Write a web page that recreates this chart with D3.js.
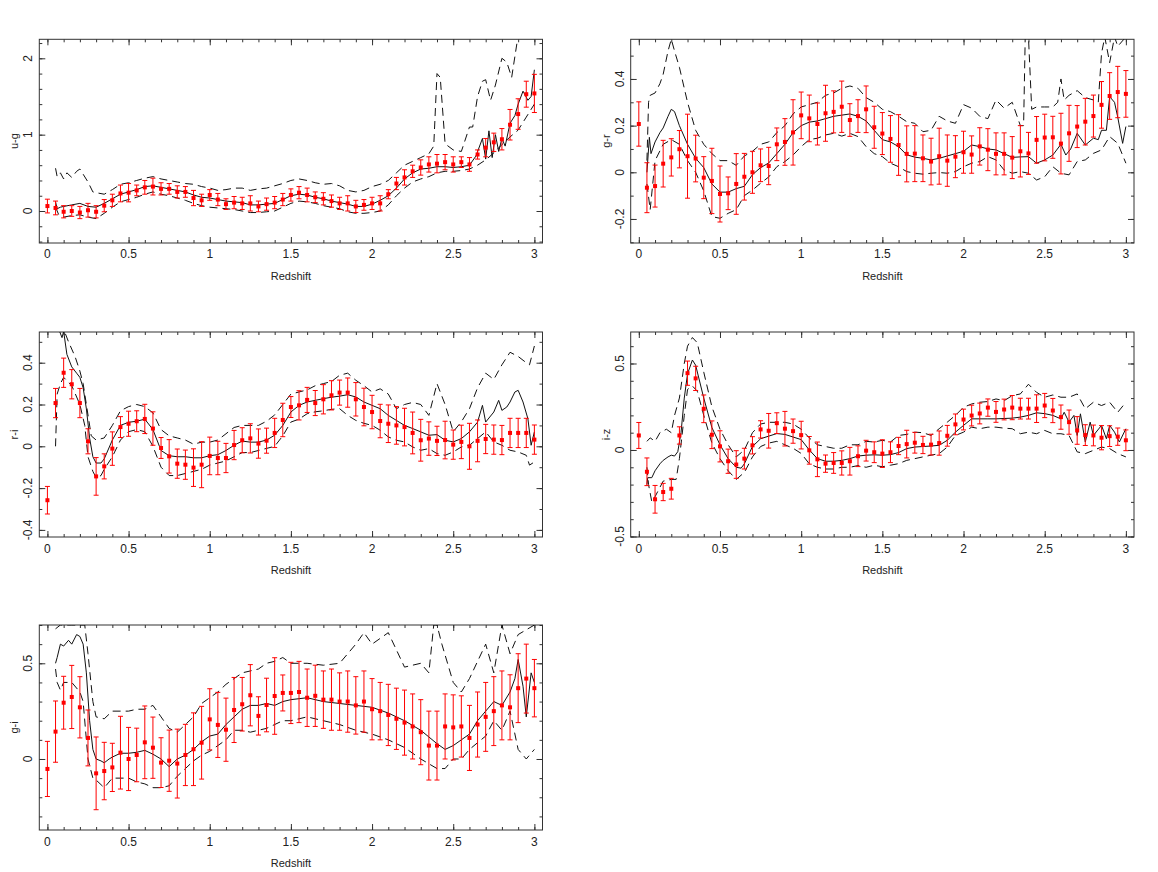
<!DOCTYPE html>
<meta charset="utf-8">
<body style="margin:0;background:#fff">
<script src="https://d3js.org/d3.v7.min.js"></script>
<style>
  body { font-family: "Liberation Sans", Arial, sans-serif; }
  .lbl { font-size: 12px; fill: #222; }
  .ttl { font-size: 11px; fill: #222; }
  .tk line { stroke: #333; }
  .tk path { display: none; }
</style>
<script>
// redshift bins of the red points
var zPts = [0,0.05,0.1,0.15,0.2,0.25,0.3,0.35,0.4,0.45,0.5,0.55,0.6,0.65,0.7,0.75,0.8,0.85,0.9,0.95,
  1,1.05,1.1,1.15,1.2,1.25,1.3,1.35,1.4,1.45,1.5,1.55,1.6,1.65,1.7,1.75,1.8,1.85,1.9,1.95,
  2,2.05,2.1,2.15,2.2,2.25,2.3,2.35,2.4,2.45,2.5,2.55,2.6,2.65,2.7,2.75,2.8,2.85,2.9,2.95,3];

// tick labels
var xMajor = [0,0.5,1,1.5,2,2.5,3];
var xMinor = [0,0.1,0.2,0.3,0.4,0.5,0.6,0.7,0.8,0.9,1,1.1,1.2,1.3,1.4,1.5,1.6,1.7,1.8,1.9,2,2.1,2.2,2.3,2.4,2.5,2.6,2.7,2.8,2.9,3];
var ugMajor = [0,1,2], ugMinor = [-0.4,-0.2,0,0.2,0.4,0.6,0.8,1,1.2,1.4,1.6,1.8,2,2.2];
var grMajor = [-0.2,0,0.2,0.4], grMinor = [-0.3,-0.2,-0.1,0,0.1,0.2,0.3,0.4,0.5];
var riMajor = [-0.4,-0.2,0,0.2,0.4], riMinor = [-0.4,-0.3,-0.2,-0.1,0,0.1,0.2,0.3,0.4,0.5];
var izMajor = [-0.5,0,0.5], izMinor = [-0.5,-0.4,-0.3,-0.2,-0.1,0,0.1,0.2,0.3,0.4,0.5,0.6];
var giMajor = [0,0.5], giMinor = [-0.3,-0.2,-0.1,0,0.1,0.2,0.3,0.4,0.5,0.6,0.7];

// u-g
var ugVal = [0.065,0.04,-0.01,0.0,-0.02,0.01,-0.01,0.07,0.14,0.23,0.24,0.27,0.31,0.32,0.29,0.29,0.25,0.25,0.17,0.14,
  0.21,0.15,0.09,0.11,0.10,0.10,0.06,0.09,0.11,0.15,0.21,0.24,0.21,0.18,0.16,0.13,0.10,0.10,0.06,0.08,
  0.10,0.10,0.22,0.36,0.44,0.52,0.57,0.61,0.62,0.64,0.61,0.64,0.61,0.74,0.83,0.90,0.94,1.13,1.27,1.53,1.54];
var ugErr = [0.09,0.09,0.08,0.07,0.08,0.09,0.08,0.08,0.08,0.11,0.12,0.07,0.09,0.11,0.08,0.07,0.08,0.07,0.10,0.08,
  0.07,0.08,0.07,0.08,0.08,0.10,0.07,0.08,0.08,0.08,0.08,0.08,0.09,0.07,0.08,0.08,0.08,0.10,0.08,0.07,
  0.08,0.10,0.06,0.08,0.10,0.08,0.10,0.10,0.12,0.10,0.10,0.07,0.09,0.06,0.12,0.12,0.14,0.20,0.20,0.17,0.25];
var ugMed = [[0.05,0.12],[0.06,0.03],[0.08,0.05],[0.1,0.06],[0.15,0.08],[0.2,0.1],[0.25,0.06],[0.3,0.05],[0.35,0.1],[0.4,0.16],
  [0.45,0.22],[0.5,0.25],[0.55,0.28],[0.6,0.32],[0.65,0.33],[0.7,0.31],[0.75,0.29],[0.8,0.27],[0.85,0.25],[0.9,0.21],
  [0.95,0.18],[1,0.17],[1.05,0.15],[1.1,0.13],[1.15,0.12],[1.2,0.11],[1.25,0.08],[1.3,0.08],[1.35,0.09],[1.4,0.1],
  [1.45,0.15],[1.5,0.2],[1.55,0.22],[1.6,0.21],[1.65,0.18],[1.7,0.16],[1.75,0.13],[1.8,0.11],[1.85,0.09],[1.9,0.06],
  [1.95,0.06],[2,0.09],[2.05,0.14],[2.1,0.2],[2.15,0.3],[2.2,0.42],[2.25,0.5],[2.3,0.55],[2.35,0.56],[2.4,0.58],
  [2.45,0.58],[2.5,0.57],[2.55,0.58],[2.6,0.6],[2.64,0.72],[2.68,0.95],[2.7,0.68],[2.72,1.05],[2.74,0.7],[2.76,1.0],
  [2.78,0.78],[2.8,0.95],[2.82,0.85],[2.85,1.15],[2.88,1.25],[2.9,1.4],[2.93,1.57],[2.96,1.45],[2.98,1.5],[3,1.85]];
var ugHi = [[0.05,0.56],[0.06,0.45],[0.08,0.5],[0.1,0.42],[0.12,0.5],[0.15,0.44],[0.18,0.52],[0.2,0.55],[0.25,0.38],[0.28,0.25],
  [0.3,0.24],[0.35,0.22],[0.4,0.28],[0.45,0.35],[0.5,0.37],[0.55,0.4],[0.6,0.43],[0.65,0.45],[0.7,0.42],[0.75,0.4],
  [0.8,0.38],[0.85,0.36],[0.9,0.35],[0.95,0.32],[1,0.3],[1.05,0.27],[1.1,0.28],[1.15,0.3],[1.2,0.3],[1.25,0.27],
  [1.3,0.29],[1.35,0.3],[1.4,0.33],[1.45,0.36],[1.5,0.4],[1.55,0.42],[1.6,0.4],[1.65,0.37],[1.7,0.35],[1.75,0.36],
  [1.8,0.33],[1.85,0.27],[1.9,0.25],[1.95,0.27],[2,0.32],[2.05,0.35],[2.1,0.4],[2.15,0.5],[2.2,0.6],[2.25,0.65],
  [2.3,0.7],[2.35,0.75],[2.38,0.85],[2.4,1.8],[2.42,1.75],[2.45,0.88],[2.5,0.8],[2.55,0.78],[2.6,1.1],[2.62,1.1],
  [2.65,1.5],[2.68,1.7],[2.7,1.72],[2.73,1.45],[2.76,1.65],[2.8,2.0],[2.83,1.95],[2.86,1.75],[2.9,2.3],[2.95,2.3],[3,2.3]];
var ugLo = [[0.05,0.05],[0.07,-0.05],[0.1,-0.08],[0.15,-0.06],[0.2,-0.05],[0.25,-0.08],[0.3,-0.1],[0.35,-0.03],[0.4,0.05],[0.45,0.12],
  [0.5,0.15],[0.55,0.18],[0.6,0.22],[0.65,0.25],[0.7,0.22],[0.75,0.2],[0.8,0.17],[0.85,0.14],[0.9,0.1],[0.95,0.07],
  [1,0.05],[1.05,0.04],[1.1,0.03],[1.15,0.02],[1.2,0.0],[1.25,-0.02],[1.3,-0.02],[1.35,-0.01],[1.4,0.0],[1.45,0.05],
  [1.5,0.1],[1.55,0.13],[1.6,0.12],[1.65,0.1],[1.7,0.07],[1.75,0.05],[1.8,0.03],[1.85,-0.01],[1.9,-0.03],[1.95,-0.03],
  [2,-0.02],[2.05,0.0],[2.1,0.08],[2.15,0.2],[2.2,0.3],[2.25,0.38],[2.3,0.42],[2.35,0.45],[2.4,0.5],[2.45,0.52],
  [2.5,0.52],[2.55,0.53],[2.6,0.55],[2.65,0.6],[2.7,0.67],[2.75,0.76],[2.8,0.87],[2.85,0.97],[2.9,1.06],[2.95,1.23],[3,1.4]];

// g-r
var grVal = [0.207,-0.066,-0.059,0.037,0.064,0.099,0.069,0.059,-0.023,-0.037,-0.093,-0.09,-0.05,-0.019,0.0,0.03,0.027,0.12,0.13,0.171,
  0.244,0.231,0.207,0.253,0.259,0.281,0.224,0.241,0.27,0.193,0.166,0.143,0.117,0.079,0.08,0.06,0.046,0.069,0.05,0.067,
  0.086,0.076,0.111,0.097,0.079,0.079,0.063,0.09,0.081,0.139,0.149,0.15,0.123,0.167,0.196,0.217,0.241,0.289,0.327,0.344,0.336];
var grErr = [0.095,0.107,0.09,0.1,0.08,0.08,0.18,0.1,0.09,0.14,0.12,0.07,0.13,0.1,0.09,0.07,0.08,0.07,0.1,0.14,
  0.1,0.1,0.09,0.12,0.09,0.11,0.07,0.07,0.1,0.09,0.09,0.1,0.13,0.12,0.12,0.1,0.1,0.12,0.11,0.09,
  0.09,0.08,0.08,0.09,0.09,0.09,0.09,0.11,0.09,0.1,0.1,0.09,0.13,0.12,0.09,0.1,0.09,0.1,0.1,0.11,0.1];
var grMed = [[0.05,0.0],[0.06,0.1],[0.065,0.15],[0.075,0.08],[0.1,0.13],[0.13,0.17],[0.15,0.19],[0.18,0.24],[0.2,0.27],[0.22,0.26],
  [0.25,0.2],[0.3,0.12],[0.35,0.06],[0.4,0.02],[0.45,-0.05],[0.5,-0.085],[0.55,-0.085],[0.6,-0.07],[0.65,-0.06],[0.7,-0.01],
  [0.75,0.02],[0.8,0.04],[0.85,0.08],[0.9,0.12],[0.95,0.17],[1,0.2],[1.05,0.215],[1.1,0.22],[1.15,0.23],[1.2,0.24],
  [1.25,0.245],[1.3,0.25],[1.35,0.24],[1.4,0.22],[1.45,0.18],[1.5,0.14],[1.55,0.13],[1.6,0.11],[1.65,0.075],[1.7,0.065],
  [1.75,0.06],[1.8,0.053],[1.85,0.06],[1.9,0.07],[1.95,0.08],[2,0.09],[2.05,0.117],[2.1,0.11],[2.15,0.1],[2.2,0.096],
  [2.25,0.08],[2.3,0.064],[2.35,0.066],[2.4,0.067],[2.45,0.039],[2.5,0.053],[2.55,0.074],[2.6,0.12],[2.63,0.074],[2.66,0.1],
  [2.7,0.167],[2.75,0.117],[2.8,0.146],[2.83,0.14],[2.85,0.18],[2.88,0.18],[2.9,0.324],[2.93,0.3],[2.95,0.236],[2.98,0.124],[3,0.196]];
var grHi = [[0.05,0.05],[0.06,0.3],[0.07,0.33],[0.1,0.34],[0.13,0.38],[0.15,0.42],[0.18,0.52],[0.2,0.57],[0.22,0.52],[0.25,0.45],
  [0.3,0.3],[0.35,0.18],[0.4,0.12],[0.45,0.08],[0.5,0.05],[0.55,0.05],[0.6,0.03],[0.65,0.07],[0.7,0.09],[0.75,0.12],
  [0.8,0.13],[0.85,0.17],[0.9,0.2],[0.95,0.25],[1,0.28],[1.05,0.29],[1.1,0.3],[1.15,0.33],[1.2,0.34],[1.25,0.36],
  [1.3,0.37],[1.35,0.36],[1.4,0.32],[1.45,0.3],[1.5,0.27],[1.55,0.26],[1.6,0.24],[1.65,0.217],[1.7,0.21],[1.75,0.174],
  [1.8,0.18],[1.85,0.24],[1.9,0.22],[1.95,0.21],[2,0.29],[2.05,0.275],[2.1,0.24],[2.15,0.23],[2.2,0.31],[2.25,0.275],
  [2.3,0.3],[2.35,0.2],[2.37,0.2],[2.38,0.58],[2.4,0.58],[2.42,0.27],[2.45,0.28],[2.5,0.28],[2.55,0.28],[2.58,0.3],
  [2.6,0.4],[2.62,0.31],[2.65,0.33],[2.7,0.35],[2.75,0.32],[2.8,0.31],[2.83,0.3],[2.85,0.51],[2.87,0.58],[2.9,0.47],
  [2.93,0.58],[2.95,0.54],[3,0.58]];
var grLo = [[0.05,-0.05],[0.07,-0.16],[0.1,0.05],[0.15,0.12],[0.2,0.14],[0.25,0.12],[0.3,0.05],[0.35,0.0],[0.4,-0.08],[0.45,-0.19],
  [0.5,-0.197],[0.55,-0.176],[0.6,-0.16],[0.65,-0.1],[0.7,-0.076],[0.75,-0.047],[0.8,-0.02],[0.85,0.024],[0.9,0.046],[0.95,0.074],
  [1,0.11],[1.05,0.14],[1.1,0.146],[1.15,0.16],[1.2,0.167],[1.25,0.155],[1.3,0.167],[1.35,0.153],[1.4,0.11],[1.45,0.08],
  [1.5,0.067],[1.55,0.039],[1.6,0.024],[1.65,0.003],[1.7,-0.004],[1.75,-0.008],[1.8,-0.004],[1.85,-0.001],[1.9,-0.004],[1.95,0.003],
  [2,0.024],[2.05,0.039],[2.1,0.046],[2.15,0.067],[2.2,0.053],[2.25,0.01],[2.3,-0.004],[2.35,0.003],[2.4,-0.004],[2.45,-0.033],
  [2.5,-0.019],[2.55,0.024],[2.6,-0.004],[2.65,-0.011],[2.7,0.046],[2.75,0.053],[2.8,0.081],[2.85,0.096],[2.9,0.153],[2.95,0.124],[3,0.039]];

// r-i
var riVal = [-0.258,0.207,0.352,0.297,0.207,0.024,-0.144,-0.096,-0.011,0.092,0.108,0.12,0.131,0.085,-0.008,-0.048,-0.083,-0.088,-0.102,-0.088,
  -0.046,-0.056,-0.056,0.006,0.029,0.038,0.013,0.027,0.064,0.126,0.188,0.196,0.222,0.207,0.225,0.244,0.257,0.257,0.225,0.188,
  0.164,0.121,0.108,0.1,0.092,0.064,0.029,0.037,0.026,0.03,0.008,0.021,0.0,0.026,0.035,0.032,0.03,0.064,0.064,0.064,0.032];
var riErr = [0.066,0.07,0.07,0.07,0.07,0.06,0.09,0.06,0.08,0.05,0.06,0.05,0.07,0.08,0.05,0.08,0.07,0.07,0.09,0.11,
  0.09,0.08,0.07,0.07,0.06,0.07,0.07,0.06,0.07,0.08,0.05,0.07,0.06,0.06,0.07,0.07,0.06,0.07,0.08,0.09,
  0.08,0.08,0.09,0.09,0.09,0.1,0.1,0.08,0.07,0.09,0.07,0.08,0.11,0.1,0.07,0.07,0.07,0.07,0.07,0.07,0.07];
var riMed = [[0.07,0.56],[0.09,0.52],[0.1,0.55],[0.12,0.44],[0.15,0.38],[0.18,0.35],[0.2,0.33],[0.22,0.28],[0.24,0.18],[0.26,0.04],
  [0.28,-0.05],[0.3,-0.08],[0.33,-0.08],[0.35,-0.06],[0.4,0.03],[0.45,0.1],[0.5,0.115],[0.55,0.12],[0.6,0.13],[0.65,0.08],
  [0.7,-0.02],[0.75,-0.045],[0.8,-0.05],[0.85,-0.05],[0.9,-0.055],[0.95,-0.055],[1,-0.045],[1.05,-0.04],[1.1,-0.02],[1.15,0.005],
  [1.2,0.025],[1.25,0.02],[1.3,0.02],[1.35,0.03],[1.4,0.053],[1.45,0.1],[1.5,0.164],[1.55,0.196],[1.6,0.212],[1.65,0.22],
  [1.7,0.228],[1.75,0.235],[1.8,0.24],[1.85,0.247],[1.9,0.236],[1.95,0.212],[2,0.196],[2.05,0.18],[2.1,0.148],[2.15,0.124],
  [2.2,0.1],[2.25,0.085],[2.3,0.069],[2.35,0.053],[2.4,0.056],[2.45,0.029],[2.5,0.021],[2.55,0.037],[2.6,0.069],[2.65,0.116],
  [2.68,0.196],[2.7,0.116],[2.75,0.164],[2.78,0.22],[2.8,0.172],[2.83,0.188],[2.85,0.212],[2.88,0.26],[2.9,0.268],[2.93,0.212],
  [2.96,0.132],[2.98,0.005],[3,0.069]];
var riHi = [[0.05,0.56],[0.1,0.56],[0.13,0.5],[0.17,0.43],[0.2,0.36],[0.22,0.3],[0.25,0.15],[0.27,0.05],[0.3,0.03],[0.35,0.04],
  [0.4,0.1],[0.45,0.17],[0.5,0.19],[0.55,0.2],[0.6,0.19],[0.65,0.16],[0.7,0.08],[0.75,0.05],[0.8,0.04],[0.85,0.03],
  [0.9,0.01],[0.95,0.02],[1,0.02],[1.05,0.03],[1.1,0.06],[1.15,0.09],[1.2,0.1],[1.25,0.1],[1.3,0.1],[1.35,0.12],
  [1.4,0.15],[1.45,0.2],[1.5,0.25],[1.55,0.26],[1.6,0.27],[1.65,0.29],[1.7,0.3],[1.75,0.31],[1.8,0.34],[1.85,0.35],
  [1.9,0.316],[1.95,0.29],[2,0.26],[2.05,0.275],[2.1,0.25],[2.15,0.18],[2.2,0.2],[2.25,0.21],[2.3,0.2],[2.35,0.148],
  [2.4,0.3],[2.45,0.2],[2.5,0.07],[2.55,0.117],[2.6,0.18],[2.65,0.28],[2.7,0.35],[2.75,0.32],[2.8,0.39],[2.85,0.45],
  [2.9,0.43],[2.95,0.4],[2.97,0.39],[3,0.48]];
var riLo = [[0.05,0.0],[0.06,0.25],[0.08,0.3],[0.1,0.33],[0.15,0.29],[0.2,0.2],[0.23,0.1],[0.25,-0.05],[0.28,-0.12],[0.3,-0.15],
  [0.33,-0.14],[0.35,-0.11],[0.4,-0.05],[0.45,0.03],[0.5,0.07],[0.55,0.08],[0.6,0.07],[0.65,0.0],[0.7,-0.1],[0.75,-0.14],
  [0.8,-0.14],[0.85,-0.13],[0.9,-0.12],[0.95,-0.11],[1,-0.09],[1.05,-0.08],[1.1,-0.07],[1.15,-0.05],[1.2,-0.03],[1.25,-0.03],
  [1.3,-0.02],[1.35,-0.01],[1.4,0.0],[1.45,0.05],[1.5,0.116],[1.55,0.13],[1.6,0.156],[1.65,0.165],[1.7,0.17],[1.75,0.177],
  [1.8,0.18],[1.85,0.148],[1.9,0.124],[1.95,0.11],[2,0.1],[2.05,0.077],[2.1,0.045],[2.15,0.029],[2.2,0.021],[2.25,-0.003],
  [2.3,-0.019],[2.35,-0.011],[2.4,-0.035],[2.45,-0.043],[2.5,-0.027],[2.55,-0.003],[2.6,0.005],[2.65,0.037],[2.7,0.069],[2.75,0.021],
  [2.8,0.005],[2.85,-0.019],[2.9,-0.027],[2.95,-0.043],[2.97,-0.09],[3,-0.075]];

// i-z
var izVal = [0.084,-0.126,-0.285,-0.243,-0.224,0.084,0.444,0.414,0.238,0.088,0.021,-0.065,-0.084,-0.05,0.027,0.119,0.111,0.155,0.123,0.109,
  0.086,-0.002,-0.054,-0.079,-0.075,-0.075,-0.065,-0.036,-0.004,-0.013,-0.021,-0.013,0.023,0.034,0.042,0.029,0.031,0.04,0.082,0.148,
  0.176,0.199,0.211,0.245,0.22,0.234,0.245,0.239,0.239,0.239,0.257,0.228,0.19,0.161,0.113,0.086,0.084,0.071,0.08,0.077,0.056];
var izErr = [0.075,0.08,0.08,0.05,0.06,0.05,0.07,0.07,0.08,0.08,0.09,0.07,0.08,0.06,0.05,0.05,0.1,0.06,0.1,0.07,
  0.08,0.08,0.1,0.05,0.06,0.07,0.08,0.06,0.06,0.06,0.08,0.06,0.05,0.08,0.06,0.05,0.06,0.07,0.06,0.06,
  0.06,0.06,0.06,0.05,0.06,0.06,0.07,0.06,0.06,0.08,0.07,0.07,0.07,0.07,0.08,0.06,0.06,0.07,0.06,0.05,0.06];
var izMed = [[0.05,-0.2],[0.055,-0.16],[0.08,-0.16],[0.1,-0.12],[0.13,-0.08],[0.15,-0.06],[0.18,-0.04],[0.2,-0.03],[0.22,-0.035],[0.24,-0.01],
  [0.26,0.1],[0.28,0.3],[0.3,0.44],[0.33,0.52],[0.35,0.49],[0.4,0.3],[0.45,0.13],[0.5,0.03],[0.55,-0.05],[0.6,-0.1],
  [0.63,-0.105],[0.65,-0.08],[0.7,0.02],[0.75,0.065],[0.8,0.08],[0.85,0.095],[0.9,0.09],[0.95,0.075],[1,0.06],[1.05,0.0],
  [1.1,-0.05],[1.15,-0.065],[1.2,-0.065],[1.25,-0.06],[1.3,-0.05],[1.35,-0.035],[1.4,-0.03],[1.45,-0.028],[1.5,-0.03],[1.55,-0.027],
  [1.6,-0.015],[1.65,0.008],[1.7,0.017],[1.75,0.02],[1.8,0.023],[1.85,0.027],[1.9,0.056],[1.95,0.103],[2,0.142],[2.05,0.18],
  [2.1,0.18],[2.15,0.18],[2.2,0.18],[2.25,0.182],[2.3,0.184],[2.35,0.19],[2.4,0.2],[2.45,0.215],[2.5,0.21],[2.55,0.2],
  [2.6,0.18],[2.62,0.218],[2.65,0.161],[2.68,0.2],[2.7,0.084],[2.72,0.209],[2.75,0.046],[2.78,0.161],[2.8,0.084],[2.85,0.142],
  [2.88,0.065],[2.9,0.142],[2.93,0.103],[2.96,0.046],[3,0.123]];
var izHi = [[0.05,0.05],[0.07,0.07],[0.1,0.05],[0.13,0.1],[0.17,0.12],[0.2,0.1],[0.22,0.2],[0.25,0.3],[0.28,0.5],[0.3,0.6],
  [0.33,0.65],[0.36,0.62],[0.4,0.45],[0.45,0.25],[0.5,0.12],[0.55,0.03],[0.6,-0.04],[0.65,0.0],[0.7,0.1],[0.75,0.15],
  [0.8,0.16],[0.85,0.16],[0.9,0.16],[0.95,0.15],[1,0.12],[1.05,0.07],[1.1,0.03],[1.15,0.02],[1.2,0.01],[1.25,0.01],
  [1.3,0.03],[1.35,0.03],[1.4,0.05],[1.45,0.046],[1.5,0.056],[1.55,0.046],[1.6,0.084],[1.65,0.09],[1.7,0.103],[1.75,0.1],
  [1.8,0.084],[1.85,0.123],[1.9,0.161],[1.95,0.2],[2,0.247],[2.05,0.266],[2.1,0.276],[2.15,0.28],[2.2,0.295],[2.25,0.285],
  [2.3,0.314],[2.35,0.324],[2.4,0.38],[2.45,0.333],[2.5,0.305],[2.55,0.318],[2.6,0.305],[2.65,0.305],[2.7,0.324],[2.75,0.238],
  [2.8,0.276],[2.85,0.257],[2.9,0.276],[2.95,0.218],[3,0.276]];
var izLo = [[0.05,-0.1],[0.06,-0.2],[0.08,-0.3],[0.1,-0.27],[0.15,-0.18],[0.2,-0.17],[0.23,-0.17],[0.25,-0.05],[0.28,0.2],[0.3,0.35],
  [0.33,0.37],[0.36,0.34],[0.4,0.2],[0.45,0.04],[0.5,-0.05],[0.55,-0.12],[0.6,-0.17],[0.65,-0.13],[0.7,-0.04],[0.75,0.02],
  [0.8,0.04],[0.85,0.05],[0.9,0.03],[0.95,0.01],[1,-0.02],[1.05,-0.08],[1.1,-0.1],[1.15,-0.11],[1.2,-0.11],[1.25,-0.1],
  [1.3,-0.1],[1.35,-0.09],[1.4,-0.1],[1.45,-0.088],[1.5,-0.097],[1.55,-0.088],[1.6,-0.079],[1.65,-0.06],[1.7,-0.05],[1.75,-0.04],
  [1.8,-0.03],[1.85,-0.021],[1.9,0.017],[1.95,0.084],[2,0.103],[2.05,0.132],[2.1,0.123],[2.15,0.132],[2.2,0.132],[2.25,0.126],
  [2.3,0.123],[2.35,0.094],[2.4,0.103],[2.45,0.094],[2.5,0.113],[2.55,0.094],[2.6,0.094],[2.65,0.084],[2.7,-0.011],[2.75,-0.021],
  [2.8,-0.002],[2.85,0.017],[2.9,0.008],[2.95,-0.021],[3,-0.04]];

// g-i
var giVal = [-0.052,0.143,0.294,0.324,0.27,0.11,-0.075,-0.063,-0.044,0.033,0.0,0.021,0.087,0.059,-0.019,-0.009,-0.024,0.021,0.051,0.085,
  0.207,0.178,0.153,0.256,0.286,0.333,0.225,0.282,0.329,0.345,0.345,0.35,0.32,0.33,0.31,0.31,0.3,0.3,0.28,0.3,
  0.26,0.25,0.23,0.21,0.19,0.17,0.14,0.07,0.07,0.17,0.165,0.17,0.11,0.18,0.22,0.25,0.28,0.27,0.37,0.42,0.37];
var giErr = [0.144,0.16,0.138,0.165,0.16,0.146,0.19,0.15,0.126,0.19,0.165,0.14,0.19,0.16,0.13,0.16,0.18,0.16,0.19,0.19,
  0.16,0.17,0.165,0.17,0.14,0.16,0.1,0.14,0.2,0.094,0.16,0.16,0.15,0.16,0.15,0.16,0.15,0.16,0.15,0.16,
  0.16,0.15,0.16,0.16,0.17,0.17,0.17,0.18,0.18,0.17,0.17,0.16,0.17,0.17,0.18,0.18,0.18,0.17,0.18,0.18,0.15];
var giMed = [[0.05,0.5],[0.06,0.53],[0.08,0.6],[0.1,0.59],[0.13,0.62],[0.15,0.6],[0.18,0.65],[0.2,0.64],[0.22,0.6],[0.24,0.45],
  [0.26,0.2],[0.28,0.05],[0.3,0.0],[0.33,-0.01],[0.35,-0.02],[0.38,0.0],[0.4,0.01],[0.45,0.03],[0.5,0.03],[0.55,0.035],
  [0.6,0.045],[0.65,0.025],[0.7,0.0],[0.75,-0.04],[0.8,0.0],[0.85,0.02],[0.9,0.05],[0.95,0.09],[1,0.12],[1.05,0.13],
  [1.1,0.18],[1.15,0.22],[1.2,0.26],[1.25,0.28],[1.3,0.28],[1.35,0.29],[1.4,0.28],[1.45,0.3],[1.5,0.31],[1.6,0.32],
  [1.7,0.3],[1.8,0.29],[1.9,0.28],[2,0.27],[2.1,0.24],[2.2,0.2],[2.3,0.15],[2.4,0.08],[2.45,0.05],[2.5,0.07],
  [2.55,0.1],[2.6,0.13],[2.65,0.2],[2.7,0.25],[2.75,0.3],[2.8,0.28],[2.85,0.35],[2.88,0.42],[2.9,0.52],[2.93,0.38],
  [2.95,0.22],[2.98,0.45],[3,0.4]];
var giHi = [[0.05,0.68],[0.08,0.7],[0.15,0.7],[0.2,0.7],[0.23,0.7],[0.25,0.55],[0.28,0.3],[0.3,0.22],[0.35,0.21],[0.4,0.25],
  [0.45,0.25],[0.5,0.25],[0.55,0.26],[0.6,0.26],[0.65,0.28],[0.7,0.22],[0.75,0.16],[0.8,0.14],[0.85,0.18],[0.9,0.22],
  [0.95,0.29],[1,0.32],[1.05,0.35],[1.1,0.39],[1.15,0.42],[1.2,0.45],[1.25,0.46],[1.3,0.47],[1.35,0.5],[1.4,0.51],
  [1.45,0.53],[1.5,0.5],[1.6,0.5],[1.7,0.49],[1.8,0.5],[1.9,0.6],[1.95,0.66],[2,0.6],[2.1,0.66],[2.2,0.48],
  [2.3,0.5],[2.35,0.45],[2.38,0.7],[2.4,0.7],[2.43,0.6],[2.5,0.4],[2.55,0.35],[2.6,0.42],[2.7,0.6],[2.75,0.45],
  [2.8,0.7],[2.85,0.55],[2.9,0.65],[3,0.7]];
var giLo = [[0.05,0.47],[0.06,0.4],[0.08,0.36],[0.1,0.4],[0.15,0.4],[0.2,0.35],[0.22,0.3],[0.25,0.0],[0.28,-0.1],[0.3,-0.11],
  [0.35,-0.15],[0.4,-0.1],[0.45,-0.1],[0.5,-0.1],[0.55,-0.12],[0.6,-0.13],[0.65,-0.15],[0.7,-0.15],[0.75,-0.14],[0.8,-0.09],
  [0.85,-0.05],[0.9,-0.01],[0.95,0.02],[1,0.04],[1.05,0.07],[1.1,0.1],[1.15,0.15],[1.2,0.15],[1.25,0.14],[1.3,0.15],
  [1.35,0.16],[1.4,0.18],[1.45,0.2],[1.5,0.2],[1.6,0.22],[1.7,0.2],[1.8,0.18],[1.9,0.15],[2,0.13],[2.1,0.1],
  [2.2,0.06],[2.3,0.0],[2.4,-0.05],[2.45,-0.05],[2.5,0.0],[2.55,0.0],[2.6,0.05],[2.7,0.12],[2.75,0.2],[2.8,0.15],
  [2.85,0.25],[2.9,0.05],[2.95,0.0],[3,0.05]];

var W = 1158, H = 872;
var svg = d3.select("body").append("svg")
    .attr("width", W)
    .attr("height", H)
    .style("display", "block");

var panels = [
  {id: "ug", title: "u-g", val: ugVal, err: ugErr, med: ugMed, hi: ugHi, lo: ugLo, major: ugMajor, minor: ugMinor,
   left: 39.3, right: 542.5, top: 39.3, bottom: 243, ydom: [-0.419, 2.249]},
  {id: "gr", title: "g-r", val: grVal, err: grErr, med: grMed, hi: grHi, lo: grLo, major: grMajor, minor: grMinor,
   left: 630.7, right: 1134, top: 39.3, bottom: 243, ydom: [-0.303, 0.570]},
  {id: "ri", title: "r-i", val: riVal, err: riErr, med: riMed, hi: riHi, lo: riLo, major: riMajor, minor: riMinor,
   left: 39.3, right: 542.5, top: 332, bottom: 537, ydom: [-0.434, 0.547]},
  {id: "iz", title: "i-z", val: izVal, err: izErr, med: izMed, hi: izHi, lo: izLo, major: izMajor, minor: izMinor,
   left: 630.7, right: 1134, top: 332, bottom: 537, ydom: [-0.503, 0.682]},
  {id: "gi", title: "g-i", val: giVal, err: giErr, med: giMed, hi: giHi, lo: giLo, major: giMajor, minor: giMinor,
   left: 39.3, right: 542.5, top: 625, bottom: 830, ydom: [-0.371, 0.700]}
];

function fmt(v) { return String(v); }

panels.forEach(function(p) {
  var w = p.right - p.left, h = p.bottom - p.top;
  var x = d3.scaleLinear().domain([-0.05, 3.05]).range([0, w]);
  var y = d3.scaleLinear().domain(p.ydom).range([h, 0]);

  var g = svg.append("g").attr("transform", "translate(" + p.left + "," + p.top + ")");

  g.append("clipPath").attr("id", "clip-" + p.id)
    .append("rect").attr("width", w).attr("height", h);

  // ticks, pointing inward on all four sides
  function ticks(gen, vals, size, tr) {
    g.append("g").attr("class", "tk").attr("transform", tr)
      .call(gen.tickValues(vals).tickSize(-size).tickFormat(""));
  }
  ticks(d3.axisBottom(x), xMinor, 3, "translate(0," + h + ")");
  ticks(d3.axisBottom(x), xMajor, 6, "translate(0," + h + ")");
  ticks(d3.axisTop(x), xMinor, 3, "translate(0,0)");
  ticks(d3.axisTop(x), xMajor, 6, "translate(0,0)");
  ticks(d3.axisLeft(y), p.minor, 3, "translate(0,0)");
  ticks(d3.axisLeft(y), p.major, 6, "translate(0,0)");
  ticks(d3.axisRight(y), p.minor, 3, "translate(" + w + ",0)");
  ticks(d3.axisRight(y), p.major, 6, "translate(" + w + ",0)");

  g.append("rect")
    .attr("width", w).attr("height", h)
    .attr("fill", "none").attr("stroke", "#333").attr("stroke-width", 1);

  // tick labels
  g.selectAll(".xl").data(xMajor).enter().append("text")
    .attr("class", "lbl")
    .attr("x", function(d) { return x(d); })
    .attr("y", h + 15.5)
    .attr("text-anchor", "middle")
    .text(fmt);
  g.selectAll(".yl").data(p.major).enter().append("text")
    .attr("class", "lbl")
    .attr("transform", function(d) { return "translate(-7," + y(d) + ") rotate(-90)"; })
    .attr("text-anchor", "middle")
    .text(fmt);

  g.append("text").attr("class", "ttl")
    .attr("x", w / 2).attr("y", h + 37)
    .attr("text-anchor", "middle")
    .text("Redshift");
  g.append("text").attr("class", "ttl")
    .attr("transform", "translate(-21," + (h / 2) + ") rotate(-90)")
    .attr("text-anchor", "middle")
    .text(p.title);

  var line = d3.line()
    .x(function(d) { return x(d[0]); })
    .y(function(d) { return y(d[1]); });

  var plot = g.append("g").attr("clip-path", "url(#clip-" + p.id + ")");

  [p.hi, p.lo].forEach(function(s) {
    plot.append("path").datum(s)
      .attr("d", line)
      .attr("fill", "none")
      .attr("stroke", "#111")
      .attr("stroke-width", 1)
      .attr("stroke-dasharray", "8,5");
  });
  plot.append("path").datum(p.med)
    .attr("d", line)
    .attr("fill", "none")
    .attr("stroke", "#111")
    .attr("stroke-width", 1);

  // error bars + points
  var pts = zPts.map(function(z, i) { return {z: z, v: p.val[i], e: p.err[i]}; });
  var eb = plot.selectAll(".eb").data(pts).enter().append("g")
    .attr("stroke", "#f00").attr("stroke-width", 1);
  eb.append("line")
    .attr("x1", function(d) { return x(d.z); })
    .attr("x2", function(d) { return x(d.z); })
    .attr("y1", function(d) { return y(d.v - d.e); })
    .attr("y2", function(d) { return y(d.v + d.e); });
  eb.append("line")
    .attr("x1", function(d) { return x(d.z) - 2.5; })
    .attr("x2", function(d) { return x(d.z) + 2.5; })
    .attr("y1", function(d) { return y(d.v - d.e); })
    .attr("y2", function(d) { return y(d.v - d.e); });
  eb.append("line")
    .attr("x1", function(d) { return x(d.z) - 2.5; })
    .attr("x2", function(d) { return x(d.z) + 2.5; })
    .attr("y1", function(d) { return y(d.v + d.e); })
    .attr("y2", function(d) { return y(d.v + d.e); });

  plot.selectAll(".pt").data(pts).enter().append("rect")
    .attr("x", function(d) { return x(d.z) - 2; })
    .attr("y", function(d) { return y(d.v) - 2; })
    .attr("width", 4).attr("height", 4)
    .attr("fill", "#f00");
});
</script>
</body>
